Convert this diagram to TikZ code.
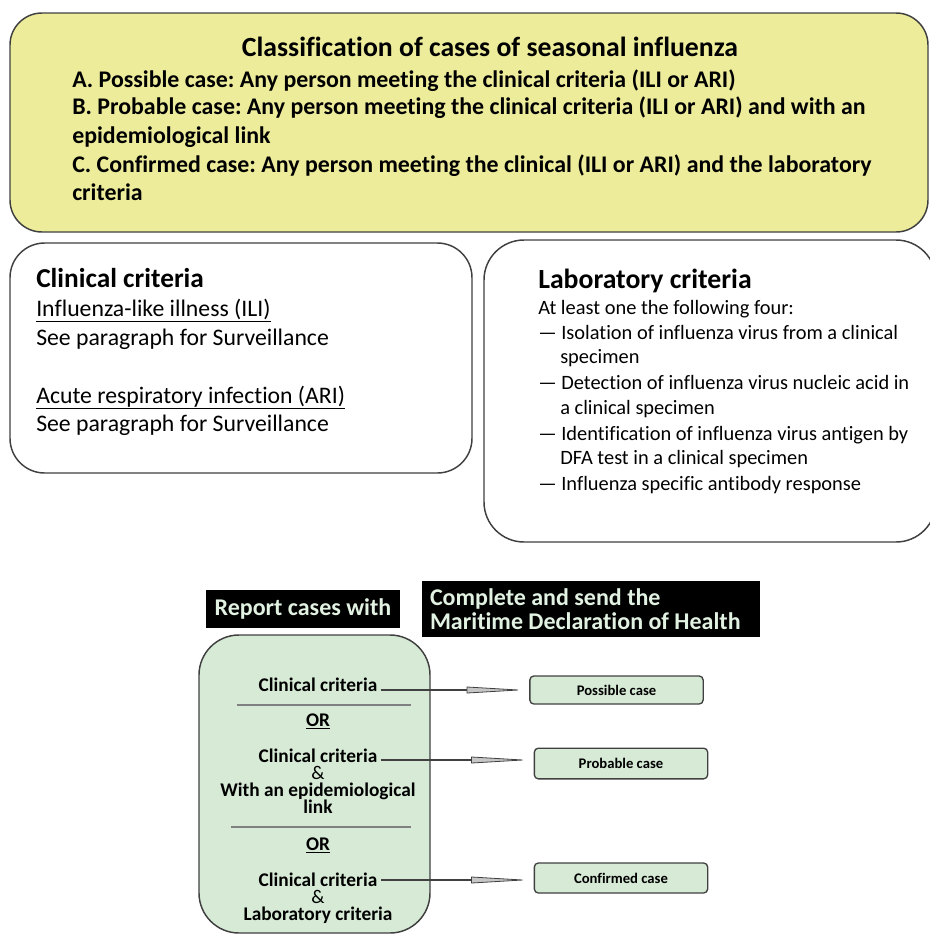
\documentclass[tikz,border=0pt]{standalone}
\usepackage{fontspec}
\setmainfont{Carlito}[Ligatures=NoCommon]
\frenchspacing
\usetikzlibrary{positioning,arrows.meta}

\definecolor{panelyellow}{RGB}{237,236,155}
\definecolor{panelgreen}{RGB}{214,234,214}
\definecolor{rimgray}{RGB}{64,64,64}
\definecolor{mint}{RGB}{226,242,226}

\begin{document}
\begin{tikzpicture}[x=0.75pt,y=-0.75pt,
    panel/.style={draw=rimgray,line width=1.1pt},
    line/.style={anchor=base west,inner sep=0pt},
    mid/.style={anchor=base,inner sep=0pt,align=center,font=\fontsize{14.5}{12.75}\selectfont\bfseries},
    banner/.style={fill=black,text=mint,inner sep=0pt,font=\fontsize{18}{18}\selectfont\bfseries},
    casebox/.style={draw=rimgray,line width=1pt,fill=panelgreen,rounded corners=3pt,
        minimum width=130pt,font=\fontsize{11}{12}\selectfont\bfseries},
    feed/.style={draw=rimgray,line width=1.6pt,shorten >=3pt,
        -{Triangle[length=44pt,width=5pt,fill=gray!45,line width=0.6pt]}},
    divider/.style={draw=gray,line width=1.5pt}]
  \useasboundingbox (0,0) rectangle (930,936);

  % classification of cases
  \draw[panel,fill=panelyellow,rounded corners=24pt] (10,13) rectangle (928,232);
  \node[anchor=base,inner sep=0pt,font=\fontsize{20.8}{24}\selectfont\bfseries] (classtitle) at (490,56)
      {Classification of cases of seasonal influenza};
  \begin{scope}[every node/.style={line,font=\fontsize{17.9}{21}\selectfont\bfseries}]
    \node (classA) at (72,87) {A. Possible case: Any person meeting the clinical criteria (ILI or ARI)};
    \node (classB) at (72,114) {B. Probable case: Any person meeting the clinical criteria (ILI or ARI) and with an};
    \node (classBb) at (72,143) {epidemiological link};
    \node (classC) at (72,172) {C. Confirmed case: Any person meeting the clinical (ILI or ARI) and the laboratory};
    \node (classCb) at (72,200) {criteria};
  \end{scope}

  % clinical criteria
  \draw[panel,fill=white,rounded corners=26pt] (10,243) rectangle (472,473);
  \node[line,font=\fontsize{20.5}{24}\selectfont\bfseries] (clintitle) at (36,287) {Clinical criteria};
  \begin{scope}[every node/.style={line,font=\fontsize{17.8}{21}\selectfont}]
    \node (ili) at (36,316) {\underline{Influenza-like illness (ILI)}};
    \node (ilisee) at (36,345) {See paragraph for Surveillance};
    \node (ari) at (36,403) {\underline{Acute respiratory infection (ARI)}};
    \node (arisee) at (36,431) {See paragraph for Surveillance};
  \end{scope}

  % laboratory criteria
  \draw[panel,fill=white,rounded corners=30pt] (484,240) rectangle (936,542);
  \node[line,font=\fontsize{20.8}{24}\selectfont\bfseries] (labtitle) at (538,288) {Laboratory criteria};
  \begin{scope}[every node/.style={line,font=\fontsize{15.3}{18}\selectfont}]
    \node (labintro) at (538,314) {At least one the following four:};
    \node (lab1) at (538,339) {--- Isolation of influenza virus from a clinical};
    \node (lab1b) at (560,363) {specimen};
    \node (lab2) at (538,389) {--- Detection of influenza virus nucleic acid in};
    \node (lab2b) at (560,414) {a clinical specimen};
    \node (lab3) at (538,440) {--- Identification of influenza virus antigen by};
    \node (lab3b) at (560,464) {DFA test in a clinical specimen};
    \node (lab4) at (538,490) {--- Influenza specific antibody response};
  \end{scope}

  % reporting
  \node[banner,minimum width=145.5pt,minimum height=28.5pt] (report) at (303,609) {Report cases with};
  \node[banner,minimum width=253.5pt,minimum height=42pt,text width=241.5pt,inner xsep=6pt,align=flush left]
      (declare) at (591,609) {Complete and send the\\Maritime Declaration of Health};

  \draw[panel,fill=panelgreen,rounded corners=30pt] (199,635) rectangle (430,933);
  \node[mid] (crit1) at (318,691) {Clinical criteria};
  \draw[divider] (237,705) -- (411,705);
  \node[mid] (or1) at (318,726) {\underline{OR}};
  % base anchor sits on the last line here
  \node[mid] (crit2) at (318,813) {Clinical criteria\\{\mdseries\&}\\With an epidemiological\\link};
  \draw[divider] (231,827) -- (411,827);
  \node[mid] (or2) at (318,850) {\underline{OR}};
  \node[mid] (crit3) at (318,920) {Clinical criteria\\{\mdseries\&}\\Laboratory criteria};
  \coordinate (crit2end) at (381,760);
  \coordinate (crit3end) at (381,880);

  \node[casebox,minimum height=21pt] (possible) at (616.5,690) {Possible case};
  \node[casebox,minimum height=23pt] (probable) at (621,763.5) {Probable case};
  \node[casebox,minimum height=22.5pt] (confirmed) at (621,878) {Confirmed case};

  \draw[feed] (crit1.east |- possible.west) ++(3,0) -- (possible.west);
  \draw[feed] (crit2end) -- (crit2end -| probable.west);
  \draw[feed] (crit3end) -- (crit3end -| confirmed.west);
\end{tikzpicture}
\end{document}
